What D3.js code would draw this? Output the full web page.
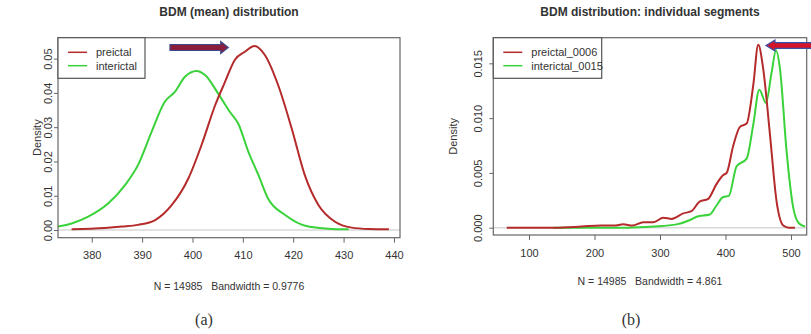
<!DOCTYPE html>
<html>
<head>
<meta charset="utf-8">
<script src="https://cdn.jsdelivr.net/npm/d3@7"></script>
<style>
  body { margin: 0; background: #fff; }
  text { font-family: "Liberation Sans", Arial, sans-serif; fill: #333; }
</style>
</head>
<body>
<div class="container"></div>
<script>
// panel (a): mean BDM densities
const meanPreX = [376, 382.6, 386, 389.2, 392.6, 395.9, 399.2, 401.8, 404.5, 406.4, 408.4, 410.4, 412.3, 414.4, 417, 419.7, 422.3, 425, 428.3, 431.6, 435, 439];
const meanPreY = [0.0002, 0.0006, 0.001, 0.0015, 0.0029, 0.0073, 0.0151, 0.0248, 0.0364, 0.043, 0.0496, 0.052, 0.0537, 0.051, 0.0423, 0.0296, 0.016, 0.0073, 0.0024, 0.0007, 0.0003, 0.0002];
const meanInterX = [373.3, 376, 379.3, 383.3, 386.6, 389.2, 391.9, 394.5, 396.5, 398.5, 400.8, 402.5, 405.1, 407.4, 409.1, 411.1, 413.1, 415, 418.4, 423, 427, 431];
const meanInterY = [0.001, 0.0019, 0.0039, 0.0078, 0.0131, 0.019, 0.0287, 0.0374, 0.0403, 0.0447, 0.0464, 0.0452, 0.0398, 0.0345, 0.031, 0.0228, 0.016, 0.0092, 0.0044, 0.001, 0.0004, 0.0002];
const meanXTicks = [380, 390, 400, 410, 420, 430, 440];
const meanYTicks = [0, 0.01, 0.02, 0.03, 0.04, 0.05];

// panel (b): individual segments
const segPreX = [66, 140, 180, 210, 230, 244, 258, 274.5, 290, 305, 318, 335.6, 348, 361, 373, 386.5, 396.6, 401.8, 411.9, 422.1, 432.3, 442.4, 450, 457.6, 467.9, 478, 488.2, 497, 506];
const segPreY = [0, 0, 0.0001, 0.0002, 0.0002, 0.0003, 0.0002, 0.0005, 0.0005, 0.0009, 0.0008, 0.0013, 0.0015, 0.0024, 0.0026, 0.004, 0.0048, 0.005, 0.0075, 0.0092, 0.0095, 0.013, 0.0167, 0.0145, 0.0085, 0.0024, 0.0002, 0, 0];
const segInterX = [137, 250, 290, 325.5, 345.8, 356, 376, 386, 396.6, 405, 417, 432.3, 442.4, 451.6, 461.8, 470.5, 477.1, 483.2, 493.4, 503.5, 512, 521.4];
const segInterY = [0, 0, 0.0001, 0.0003, 0.0007, 0.001, 0.0012, 0.002, 0.0028, 0.0029, 0.0056, 0.0063, 0.0094, 0.0126, 0.0114, 0.0142, 0.0162, 0.0145, 0.0069, 0.0018, 0.0004, 0.0001];
const segXTicks = [100, 200, 300, 400, 500];
const segYTicks = [0, 0.005, 0.01, 0.015];

const RED = "#b52b2b", GREEN = "#3ad23a";

const svg = d3.select('.container')
    .append('svg')
    .attr('width', 811)
    .attr('height', 334);

const zip = (xs, ys) => xs.map((x, i) => [x, ys[i]]);

const panel = opt => {
    const x = d3.scaleLinear().domain(opt.xDomain).range([opt.left, opt.right]),
        y = d3.scaleLinear().domain(opt.yDomain).range([opt.bottom, opt.top]),
        cx = (opt.left + opt.right) / 2;

    const clipId = 'clip' + opt.id;
    svg.append('clipPath').attr('id', clipId)
        .append('rect')
        .attr('x', opt.left).attr('y', opt.top)
        .attr('width', opt.right - opt.left).attr('height', opt.bottom - opt.top);

    // zero line
    svg.append('line')
        .attr('x1', opt.left).attr('x2', opt.right)
        .attr('y1', y(0)).attr('y2', y(0))
        .attr('stroke', '#d8d8d8').attr('stroke-width', 1.5);

    const line = d3.line()
        .x(d => x(d[0]))
        .y(d => y(d[1]))
        .curve(d3.curveMonotoneX);

    const g = svg.append('g').attr('clip-path', `url(#${clipId})`);
    g.append('path').datum(zip(opt.interX, opt.interY))
        .attr('d', line).attr('fill', 'none')
        .attr('stroke', GREEN).attr('stroke-width', 2);
    g.append('path').datum(zip(opt.preX, opt.preY))
        .attr('d', line).attr('fill', 'none')
        .attr('stroke', RED).attr('stroke-width', 2);

    // axes
    const xAxis = svg.append('g')
        .attr('transform', `translate(0,${opt.bottom})`)
        .call(d3.axisBottom(x).tickValues(opt.xTicks).tickSize(5).tickPadding(9));
    const yAxis = svg.append('g')
        .attr('transform', `translate(${opt.left},0)`)
        .call(d3.axisLeft(y).tickValues(opt.yTicks).tickSize(4)
            .tickFormat(d3.format(opt.yFmt)));
    [xAxis, yAxis].forEach(a => {
        a.select('.domain').remove();
        a.selectAll('line').attr('stroke', '#666');
        a.selectAll('text').style('font-size', '11px').attr('fill', '#333');
    });
    // R style: y labels run along the axis
    yAxis.selectAll('.tick text')
        .attr('text-anchor', 'middle')
        .attr('x', null).attr('dy', null)
        .attr('transform', `translate(${opt.yLabelX - opt.left},0) rotate(-90)`);

    // frame
    svg.append('rect')
        .attr('x', opt.left).attr('y', opt.top)
        .attr('width', opt.right - opt.left).attr('height', opt.bottom - opt.top)
        .attr('fill', 'none').attr('stroke', '#666').attr('stroke-width', 1.2);

    // legend
    svg.append('rect')
        .attr('x', opt.left).attr('y', opt.top)
        .attr('width', opt.legendW).attr('height', 40.6)
        .attr('fill', '#fff').attr('stroke', '#555').attr('stroke-width', 1.2);
    [[opt.names[0], RED, 52.3], [opt.names[1], GREEN, 65.7]].forEach(([name, c, ly]) => {
        svg.append('line')
            .attr('x1', opt.left + 10).attr('x2', opt.left + 29)
            .attr('y1', ly).attr('y2', ly)
            .attr('stroke', c).attr('stroke-width', 1.5);
        svg.append('text')
            .attr('x', opt.left + 38).attr('y', ly + 4)
            .style('font-size', '11px')
            .text(name);
    });

    // titles
    svg.append('text')
        .attr('x', cx).attr('y', 16)
        .attr('text-anchor', 'middle')
        .style('font-size', '12px').style('font-weight', 'bold').attr('fill', '#222')
        .text(opt.title);
    svg.append('text')
        .attr('transform', `translate(${opt.densX},${(opt.top + opt.bottom) / 2}) rotate(-90)`)
        .attr('text-anchor', 'middle')
        .style('font-size', '11px')
        .text('Density');
    svg.append('text')
        .attr('x', cx).attr('y', opt.subY)
        .attr('text-anchor', 'middle')
        .style('font-size', '10.5px')
        .style('white-space', 'pre')
        .text(opt.sub);
    svg.append('text')
        .attr('x', opt.capX).attr('y', 325)
        .attr('text-anchor', 'middle')
        .style('font-family', '"Liberation Serif", "Times New Roman", serif')
        .style('font-size', '16px').attr('fill', '#111')
        .text(opt.cap);
};

panel({
    id: 'a', left: 58, right: 400, top: 37.7, bottom: 237.7,
    xDomain: [373.3, 441.2], yDomain: [-0.00224, 0.0561],
    preX: meanPreX, preY: meanPreY, interX: meanInterX, interY: meanInterY,
    xTicks: meanXTicks, yTicks: meanYTicks, yFmt: '.2f', yLabelX: 52,
    legendW: 87, names: ['preictal', 'interictal'],
    title: 'BDM (mean) distribution', densX: 40.5, subY: 290,
    sub: 'N = 14985   Bandwidth = 0.9776', capX: 204, cap: '(a)'
});

panel({
    id: 'b', left: 493.3, right: 806.7, top: 37.7, bottom: 235,
    xDomain: [45.5, 524], yDomain: [-0.00067, 0.01734],
    preX: segPreX, preY: segPreY, interX: segInterX, interY: segInterY,
    xTicks: segXTicks, yTicks: segYTicks, yFmt: '.3f', yLabelX: 481.5,
    legendW: 108.4, names: ['preictal_0006', 'interictal_0015'],
    title: 'BDM distribution: individual segments', densX: 456.5, subY: 285,
    sub: 'N = 14985   Bandwidth = 4.861', capX: 631, cap: '(b)'
});

// arrows
const arrow = (pts, fill, stroke) => svg.append('path')
    .attr('d', d3.line()(pts) + 'Z')
    .attr('fill', fill).attr('stroke', stroke).attr('stroke-width', 1.2);

arrow([[170, 44.5], [220.7, 44.5], [220.7, 41.5], [228.3, 47.5], [220.7, 53.5], [220.7, 50.5], [170, 50.5]], '#8a1c3c', '#3b4a8c');
arrow([[812, 42.7], [775, 42.7], [775, 40], [766, 45.5], [775, 51], [775, 48.3], [812, 48.3]], '#d3142a', '#3552a6');
</script>
</body>
</html>
